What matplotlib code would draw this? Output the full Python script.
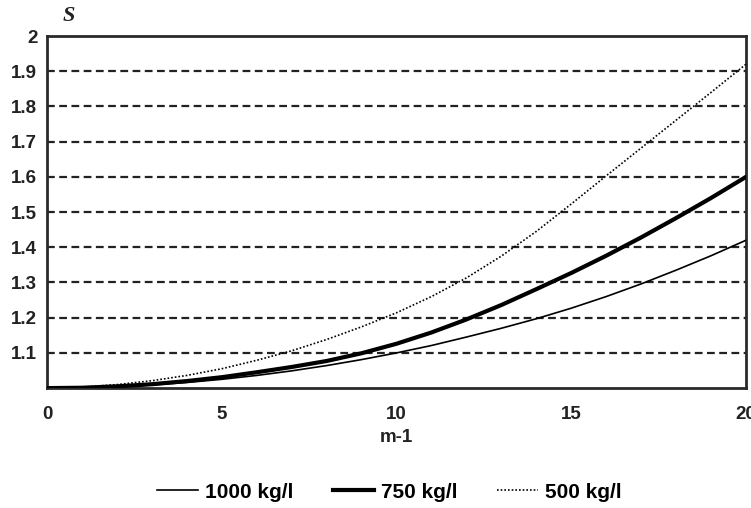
import numpy as np
import matplotlib
matplotlib.use("Agg")
import matplotlib.pyplot as plt

plt.rcParams['font.family'] = ['Liberation Sans', 'DejaVu Sans']

# m-1 values (x axis)
m_minus_1 = [0, 1, 2, 3, 4, 5, 6, 7, 8, 9, 10, 11, 12, 13, 14, 15, 16, 17, 18, 19, 20]

# S values
s_1000 = [1.000, 1.001, 1.004, 1.009, 1.016, 1.025, 1.036, 1.049, 1.064, 1.081, 1.100,
          1.121, 1.145, 1.170, 1.197, 1.227, 1.260, 1.296, 1.335, 1.376, 1.420]
s_750 = [1.000, 1.001, 1.005, 1.011, 1.020, 1.031, 1.045, 1.060, 1.077, 1.099, 1.126,
         1.158, 1.195, 1.236, 1.281, 1.327, 1.376, 1.428, 1.483, 1.540, 1.600]
s_500 = [1.000, 1.003, 1.010, 1.021, 1.036, 1.055, 1.079, 1.106, 1.138, 1.174, 1.214,
         1.260, 1.313, 1.375, 1.445, 1.523, 1.603, 1.682, 1.761, 1.840, 1.920]

labels = ["1000 kg/l", "750 kg/l", "500 kg/l"]
x_ticks = [0, 5, 10, 15, 20]
y_ticks = [1.1, 1.2, 1.3, 1.4, 1.5, 1.6, 1.7, 1.8, 1.9, 2.0]
y_ticklabels = ["1.1", "1.2", "1.3", "1.4", "1.5", "1.6", "1.7", "1.8", "1.9", "2"]

fig = plt.figure(figsize=(7.51, 5.08), dpi=100)
ax = fig.add_axes([0.0626, 0.236, 0.9307, 0.693])

# dashed horizontal grid
for yv in y_ticks[:-1]:
    ax.axhline(yv, color="#222222", linestyle=(0, (3.5, 2)), linewidth=1.6, zorder=1)

ax.plot(m_minus_1, s_1000, color="black", linewidth=1.2, label=labels[0], zorder=3)
ax.plot(m_minus_1, s_750, color="black", linewidth=3.0, label=labels[1], zorder=3)
ax.plot(m_minus_1, s_500, color="black", linewidth=1.2, linestyle=(0, (1, 1.2)),
        label=labels[2], zorder=3)

ax.set_xlim(0, 20)
ax.set_ylim(1.0, 2.0)
ax.set_xticks(x_ticks)
ax.set_xticklabels([str(v) for v in x_ticks], fontsize=13.5, fontweight="bold", color="#222222")
ax.set_yticks(y_ticks)
ax.set_yticklabels(y_ticklabels, fontsize=13.5, fontweight="bold", color="#222222")
ax.tick_params(axis="both", length=0)
ax.tick_params(axis="x", pad=13)
ax.tick_params(axis="y", pad=7)

for sp in ax.spines.values():
    sp.set_linewidth(2.0)
    sp.set_color("#2a2a2a")

ax.set_xlabel("m-1", fontsize=13.5, fontweight="bold", color="#222222", labelpad=4)
fig.text(0.091, 0.968, "S", fontsize=16, fontstyle="italic", fontweight="bold",
         family="Liberation Serif", ha="center", va="center", color="#222222")

fig.legend(loc="center", bbox_to_anchor=(0.518, 0.031), ncol=3, frameon=False,
           handlelength=2.0, handletextpad=0.3, columnspacing=1.9,
           prop={"weight": "bold", "size": 15})

fig.savefig("out.png", dpi=100)
